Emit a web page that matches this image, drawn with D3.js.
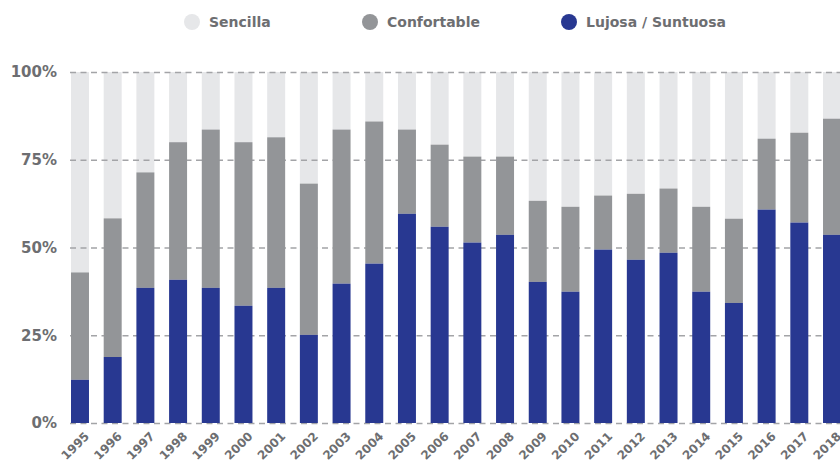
<!DOCTYPE html>
<html>
<head>
<meta charset="utf-8">
<script src="https://cdn.jsdelivr.net/npm/d3@7"></script>
<style>
  html, body { margin: 0; padding: 0; background: #fff; }
  svg { display: block; }
</style>
</head>
<body>
<svg id="chart"></svg>
<script>
const years = ["1995","1996","1997","1998","1999","2000","2001","2002","2003","2004","2005","2006",
  "2007","2008","2009","2010","2011","2012","2013","2014","2015","2016","2017","2018"];

// share of each category (%)
const lujosa      = [12.3, 18.8, 38.5, 40.8, 38.5, 33.4, 38.5, 25.1, 39.7, 45.4, 59.6, 55.9,
  51.4, 53.6, 40.2, 37.4, 49.4, 46.5, 48.5, 37.4, 34.2, 60.8, 57.1, 53.6];
const confortable = [30.6, 39.5, 32.9, 39.2, 45.1, 46.6, 42.9, 43.1, 43.9, 40.5, 24.0, 23.4,
  24.5, 22.3, 23.1, 24.2, 15.4, 18.8, 18.3, 24.2, 24.0, 20.2, 25.6, 33.1];
const sencilla    = [57.1, 41.7, 28.6, 20.0, 16.4, 20.0, 18.6, 31.8, 16.4, 14.1, 16.4, 20.7,
  24.1, 24.1, 36.7, 38.4, 35.2, 34.7, 33.2, 38.4, 41.8, 19.0, 17.3, 13.3];

const yTicks = [0, 25, 50, 75, 100];
const seriesNames = ["Sencilla", "Confortable", "Lujosa / Suntuosa"];
const colors = { "Sencilla": "#e6e7e9", "Confortable": "#939598", "Lujosa / Suntuosa": "#283891" };

const width = 840, height = 464;
const margin = { top: 72, right: 0, bottom: 41, left: 70 };

const svg = d3.select("#chart").attr("width", width).attr("height", height);

const rows = years.map((yr, i) => ({
  year: yr,
  "Lujosa / Suntuosa": lujosa[i],
  "Confortable": confortable[i],
  "Sencilla": sencilla[i]
}));

const stack = d3.stack().keys(["Lujosa / Suntuosa", "Confortable", "Sencilla"]);
const layers = stack(rows);

const x = d3.scaleBand().domain(years).range([71, 841]).paddingInner(0.45).paddingOuter(0);
const y = d3.scaleLinear().domain([0, 100]).range([height - margin.bottom, margin.top]);

const font = "'DejaVu Sans', sans-serif";
const textColor = "#6d6e71";

function drawLayer(layer) {
  svg.append("g")
    .selectAll("rect")
    .data(layer)
    .join("rect")
    .attr("x", d => x(d.data.year))
    .attr("width", x.bandwidth())
    .attr("y", d => y(d[1]))
    .attr("height", d => y(d[0]) - y(d[1]))
    .attr("fill", colors[layer.key]);
}

// light layer first, then gridlines, then the darker layers on top
drawLayer(layers[2]);

svg.append("g")
  .attr("transform", `translate(${margin.left},0)`)
  .call(d3.axisLeft(y).tickValues(yTicks).tickSize(-(width - margin.left)).tickFormat(""))
  .call(g => g.select(".domain").remove())
  .call(g => g.selectAll(".tick line")
    .attr("stroke", "#a3a4a7")
    .attr("stroke-width", 1.5)
    .attr("stroke-dasharray", "6,4.5"));

drawLayer(layers[1]);
drawLayer(layers[0]);

// y tick labels
svg.append("g")
  .selectAll("text")
  .data(yTicks)
  .join("text")
  .attr("x", 57)
  .attr("y", d => y(d))
  .attr("dy", "0.36em")
  .attr("text-anchor", "end")
  .attr("font-family", font)
  .attr("font-weight", "bold")
  .attr("font-size", 15)
  .attr("fill", textColor)
  .text(d => `${d}%`);

// x labels, rotated
svg.append("g")
  .selectAll("text")
  .data(years)
  .join("text")
  .attr("transform", d => `translate(${x(d) + x.bandwidth() / 2 + 7},${434}) rotate(-45)`)
  .attr("text-anchor", "end")
  .attr("dy", "0.35em")
  .attr("font-family", font)
  .attr("font-weight", "bold")
  .attr("font-size", 12)
  .attr("fill", textColor)
  .text(d => d);

// legend
const legendPos = [192, 370, 569];
const legend = svg.append("g");
seriesNames.forEach((name, i) => {
  const g = legend.append("g").attr("transform", `translate(${legendPos[i]},22)`);
  g.append("circle").attr("r", 8).attr("fill", colors[name]);
  g.append("text")
    .attr("x", 17)
    .attr("dy", "0.36em")
    .attr("font-family", font)
    .attr("font-weight", "bold")
    .attr("font-size", 14)
    .attr("fill", textColor)
    .text(name);
});
</script>
</body>
</html>
